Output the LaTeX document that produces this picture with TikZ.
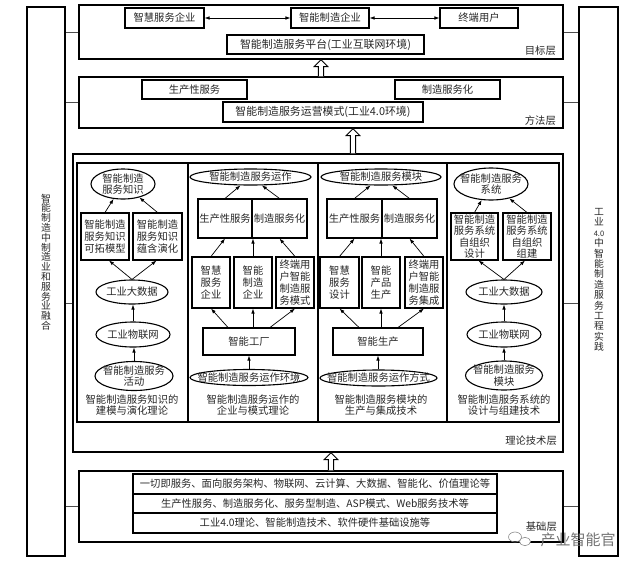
\documentclass[tikz,border=0pt]{standalone}
\usepackage{fontspec}
\setmainfont{Noto Sans CJK SC}
\usetikzlibrary{shapes.geometric,arrows.meta,calc}
\newcommand{\hollowarrow}[2]{%
  \draw[line width=0.9pt, fill=white] ($(#1)+(-2.6,0)$) -- ($(#2)+(-2.6,7)$) -- ($(#2)+(-6.8,7)$) -- (#2) -- ($(#2)+(6.8,7)$) -- ($(#2)+(2.6,7)$) -- ($(#1)+(2.6,0)$);}
\begin{document}
\begin{tikzpicture}[x=1pt,y=-1pt,
  every node/.style={text=black!85, inner sep=0pt, align=center, font=\fontsize{10.3}{11.8}\selectfont},
  layer/.style={draw, line width=1.3pt},
  box/.style={draw, line width=1.1pt},
  ell/.style={draw, ellipse, line width=1.1pt},
  arr/.style={line width=0.7pt, -{Latex[length=5pt,width=3.6pt]}},
  darr/.style={line width=0.7pt, {Latex[length=5pt,width=3.6pt]}-{Latex[length=5pt,width=3.6pt]}},
  link/.style={line width=0.8pt, draw=black!70},
  lbl/.style={anchor=east},
  four/.style={font=\fontsize{10.3}{11.4}\selectfont},
  wide/.style={font=\fontsize{10.9}{12}\selectfont},
]
\useasboundingbox (0,0) rectangle (640,568);

% side boxes
\node[layer, minimum width=38pt, minimum height=549pt] (lside) at (46,281.5) {};
\node[layer, minimum width=39pt, minimum height=549pt] (rside) at (598.5,281.5) {};
\node[font=\fontsize{9.8}{9.8}\selectfont] (ltext) at (46,262) {智\\能\\制\\造\\中\\制\\造\\业\\和\\服\\务\\业\\融\\合};
\node[font=\fontsize{9.8}{10.4}\selectfont] (rtext) at (599,280) {工\\业\\{\fontsize{7.5}{7.5}\selectfont 4.0}\\中\\智\\能\\制\\造\\服\\务\\工\\程\\实\\践};

% top layer
\node[layer, minimum width=484pt, minimum height=54pt] (top) at (321,32) {};
\node[box, minimum width=79pt, minimum height=20pt] (t1) at (164.5,18) {智慧服务企业};
\node[box, minimum width=78pt, minimum height=20pt] (t2) at (330,18) {智能制造企业};
\node[box, minimum width=78pt, minimum height=20pt] (t3) at (479,18) {终端用户};
\node[box, wide, minimum width=197pt, minimum height=19pt] (plat) at (325.5,44.5) {智能制造服务平台(工业互联网环境)};
\node[lbl] (toplbl) at (556,51) {目标层};
\draw[darr] (t1) -- (t2);
\draw[darr] (t2) -- (t3);

% method layer
\node[layer, minimum width=484pt, minimum height=51pt] (meth) at (321,102.5) {};
\node[box, minimum width=105pt, minimum height=19pt] (m1) at (194.5,89.5) {生产性服务};
\node[box, minimum width=105pt, minimum height=19pt] (m2) at (447.5,89.5) {制造服务化};
\node[box, wide, minimum width=200pt, minimum height=20pt] (mode) at (323,112) {智能制造服务运营模式(工业4.0环境)};
\node[lbl] (methlbl) at (556,121) {方法层};

% theory layer
\node[layer, minimum width=490pt, minimum height=298pt] (theo) at (318,303) {};
\node[lbl] (theolbl) at (557,441) {理论技术层};
\node[box, minimum width=111pt, minimum height=259pt] (c1) at (132.5,292.5) {};
\node[box, minimum width=130pt, minimum height=259pt] (c2) at (253,292.5) {};
\node[box, minimum width=129pt, minimum height=259pt] (c3) at (382.5,292.5) {};
\node[box, minimum width=112pt, minimum height=259pt] (c4) at (503,292.5) {};

% column 1
\node[ell, minimum width=64pt, minimum height=30pt] (k1e) at (123,184) {};
\node (k1et) at (k1e) {智能制造\\服务知识};
\node[box, minimum width=48pt, minimum height=47pt] (k1a) at (105,236.5) {智能制造\\服务知识\\可拓模型};
\node[box, minimum width=49pt, minimum height=47pt] (k1b) at (157.5,236.5) {智能制造\\服务知识\\蕴含演化};
\node[ell, minimum width=72pt, minimum height=24pt] (bd1) at (132,292) {};
\node (bd1t) at (bd1) {工业大数据};
\node[ell, minimum width=74pt, minimum height=25pt] (iot1) at (133,334.5) {};
\node (iot1t) at (iot1) {工业物联网};
\node[ell, minimum width=78pt, minimum height=29pt] (act1) at (134,376) {};
\node (act1t) at (act1) {智能制造服务\\活动};
\node (cap1) at (132,405) {智能制造服务知识的\\建模与演化理论};
\draw[arr] (k1a.north) -- (k1e);
\draw[arr] (k1b.north) -- (k1e);
\draw[arr] (bd1.north) -- ([xshift=4pt]k1a.south);
\draw[arr] (bd1.north) -- ([xshift=-1pt]k1b.south);
\draw[arr] (iot1.north) -- (iot1.north |- bd1.south);
\draw[arr] (act1.north) -- (act1.north |- iot1.south);

% column 2
\node[ell, minimum width=121pt, minimum height=16pt] (op2) at (250.5,177) {};
\node (op2t) at (op2) {智能制造服务运作};
\node[box, minimum width=54pt, minimum height=39pt] (ps2) at (225,218.5) {生产性服务};
\node[box, minimum width=55pt, minimum height=39pt] (ms2) at (279.5,218.5) {制造服务化};
\node[box, minimum width=38pt, minimum height=51pt] (e2a) at (211,282.5) {智慧\\服务\\企业};
\node[box, minimum width=38pt, minimum height=51pt] (e2b) at (253,282.5) {智能\\制造\\企业};
\node[box, minimum width=38pt, minimum height=51pt] (e2c) at (295,282.5) {终端用\\户智能\\制造服\\务模式};
\node[box, minimum width=92pt, minimum height=27pt] (f2) at (249,341.5) {智能工厂};
\node[ell, minimum width=118pt, minimum height=16pt] (env2) at (249,377.5) {};
\node (env2t) at (env2) {智能制造服务运作环境};
\node (cap2) at (253,405) {智能制造服务运作的\\企业与模式理论};
\draw[arr] (ps2.north) -- (op2);
\draw[arr] (ms2.north) -- (op2);
\draw[arr] (e2a.north) -- (ps2.south);
\draw[arr] (e2b.north) -- (e2b.north |- ps2.south);
\draw[arr] (e2c.north) -- (ms2.south);
\draw[arr] ([xshift=-21pt]f2.north) -- (e2a.south);
\draw[arr] (f2.north -| e2b.south) -- (e2b.south);
\draw[arr] ([xshift=21pt]f2.north) -- (e2c.south);
\draw[arr] (env2.north) -- (env2.north |- f2.south);

% column 3
\node[ell, minimum width=120pt, minimum height=16pt] (op3) at (381,177) {};
\node (op3t) at (op3) {智能制造服务模块};
\node[box, minimum width=55pt, minimum height=39pt] (ps3) at (354.5,218.5) {生产性服务};
\node[box, minimum width=55pt, minimum height=39pt] (ms3) at (409.5,218.5) {制造服务化};
\node[box, minimum width=39pt, minimum height=51pt] (e3a) at (339.5,282.5) {智慧\\服务\\设计};
\node[box, minimum width=38pt, minimum height=51pt] (e3b) at (381,282.5) {智能\\产品\\生产};
\node[box, minimum width=38pt, minimum height=51pt] (e3c) at (424,282.5) {终端用\\户智能\\制造服\\务集成};
\node[box, minimum width=90pt, minimum height=27pt] (f3) at (378,341.5) {智能生产};
\node[ell, minimum width=117pt, minimum height=16pt] (env3) at (378.5,378) {};
\node (env3t) at (env3) {智能制造服务运作方式};
\node (cap3) at (381,405) {智能制造服务模块的\\生产与集成技术};
\draw[arr] (ps3.north) -- (op3);
\draw[arr] (ms3.north) -- (op3);
\draw[arr] (e3a.north) -- (ps3.south);
\draw[arr] (e3b.north) -- (e3b.north |- ps3.south);
\draw[arr] (e3c.north) -- (ms3.south);
\draw[arr] ([xshift=-19pt]f3.north) -- (e3a.south);
\draw[arr] (f3.north -| e3b.south) -- (e3b.south);
\draw[arr] ([xshift=20pt]f3.north) -- (e3c.south);
\draw[arr] (env3.north -| f3.south) -- (f3.south);

% column 4
\node[ell, minimum width=74pt, minimum height=32pt] (ek4) at (491,184) {};
\node (ek4t) at (ek4) {智能制造服务\\系统};
\node[box, four, minimum width=47pt, minimum height=47pt] (sb1) at (474.5,236.5) {智能制造\\服务系统\\自组织\\设计};
\node[box, four, minimum width=48pt, minimum height=47pt] (sb2) at (527,236.5) {智能制造\\服务系统\\自组织\\组建};
\node[ell, minimum width=76pt, minimum height=24pt] (bd4) at (504,292) {};
\node (bd4t) at (bd4) {工业大数据};
\node[ell, minimum width=74pt, minimum height=25pt] (iot4) at (504,334.5) {};
\node (iot4t) at (iot4) {工业物联网};
\node[ell, minimum width=77pt, minimum height=29pt] (mod4) at (504,375.5) {};
\node (mod4t) at (mod4) {智能制造服务\\模块};
\node (cap4) at (504,405) {智能制造服务系统的\\设计与组建技术};
\draw[arr] (sb1.north) -- (ek4);
\draw[arr] (sb2.north) -- (ek4);
\draw[arr] (bd4.north) -- ([xshift=4pt]sb1.south);
\draw[arr] (bd4.north) -- ([xshift=-2pt]sb2.south);
\draw[arr] (iot4.north) -- (bd4.south);
\draw[arr] (mod4.north) -- (iot4.south);

% base layer
\node[layer, minimum width=484pt, minimum height=71pt] (base) at (321,506.5) {};
\node[box, minimum width=364pt, minimum height=20pt] (r1) at (315,484) {一切即服务、面向服务架构、物联网、云计算、大数据、智能化、价值理论等};
\node[box, minimum width=364pt, minimum height=19pt] (r2) at (315,503.5) {生产性服务、制造服务化、服务型制造、ASP模式、Web服务技术等};
\node[box, minimum width=364pt, minimum height=20pt] (r3) at (315,523) {工业4.0理论、智能制造技术、软件硬件基础设施等};
\node[lbl] (baselbl) at (557,527) {基础层};

% hollow arrows between layers
\coordinate (a1b) at (meth.north -| 321,0);
\coordinate (a1t) at (top.south -| 321,0);
\hollowarrow{a1b}{a1t}
\coordinate (a2b) at (theo.north -| 353,0);
\coordinate (a2t) at (meth.south -| 353,0);
\hollowarrow{a2b}{a2t}
\coordinate (a3b) at (base.north -| 331,0);
\coordinate (a3t) at (theo.south -| 331,0);
\hollowarrow{a3b}{a3t}

% links to side boxes
\foreach \L in {top,meth,theo,base}{
  \draw[link] (\L.west) -- (\L.west -| lside.east);
  \draw[link] (\L.east) -- (\L.east -| rside.west);
}

% watermark
\draw[black!45, line width=0.6pt] (515,537) ellipse (6.5 and 5);
\draw[black!45, line width=0.6pt, fill=white] (525,541.5) ellipse (5.5 and 4.2);
\node[font=\fontsize{15}{15}\selectfont, text=black!55] (wm) at (578,540) {产业智能官};
\end{tikzpicture}
\end{document}
